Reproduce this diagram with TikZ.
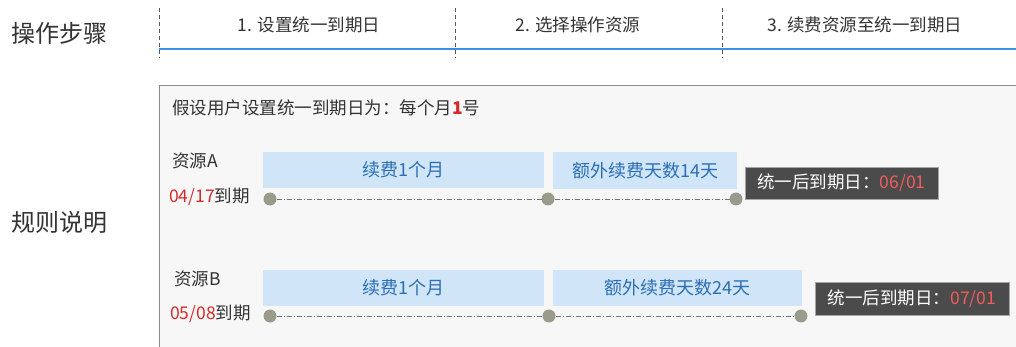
\documentclass[tikz,border=0pt]{standalone}
\usepackage{fontspec}
\setmainfont{Noto Sans CJK SC}
\usetikzlibrary{positioning}

\definecolor{stepblue}{HTML}{3C8FE6}
\definecolor{panelgray}{HTML}{F7F7F7}
\definecolor{phasefill}{HTML}{D0E5F8}
\definecolor{phasetext}{HTML}{2C6FB4}
\definecolor{dotgray}{HTML}{9B9B8B}
\definecolor{resultfill}{HTML}{4B4B4B}
\definecolor{datered}{HTML}{D42A2A}
\definecolor{resultred}{HTML}{F25C5C}
\definecolor{inktext}{HTML}{333333}

\begin{document}
\begin{tikzpicture}[
  x=1pt, y=-1pt,
  every node/.style={inner sep=0pt, outer sep=0pt, text=inktext},
  heading/.style={font=\fontsize{24}{27}\selectfont, anchor=west},
  steplabel/.style={font=\fontsize{17.5}{20}\selectfont},
  plain/.style={font=\fontsize{17.5}{20}\selectfont, anchor=west},
  phase/.style={fill=phasefill, text=phasetext, font=\fontsize{18}{21}\selectfont, anchor=north west},
  dot/.style={circle, fill=dotgray, minimum size=13pt},
  result/.style={fill=resultfill, draw=black!35, text=white, font=\fontsize{17.5}{20}\selectfont, anchor=north west},
  timeline/.style={black!55, dash pattern=on 5pt off 2pt on 1pt off 2pt},
  divider/.style={black!65, dash pattern=on 4pt off 3pt}
]
  \useasboundingbox (0,0) rectangle (1016,347);

  % step bar
  \node (opsteps) [heading] at (11,33) {操作步骤};
  \draw [divider] (159,8) -- (159,58);
  \draw [divider] (455,8) -- (455,58);
  \draw [divider] (722,8) -- (722,58);
  \draw [stepblue, line width=2.2pt] (159,49) -- (1016,49);
  \node (step1) [steplabel] at (309,25) {1. 设置统一到期日};
  \node (step2) [steplabel] at (578,25) {2. 选择操作资源};
  \node (step3) [steplabel] at (865,25) {3. 续费资源至统一到期日};

  % rule panel
  \draw [black!45, fill=panelgray] (159,85) rectangle (1030,360);
  \node (rules) [heading] at (11,222) {规则说明};
  \node (intro) [plain] at (172,108) {假设用户设置统一到期日为：每个月{\bfseries\color{datered}1}号};

  % resource A
  \node (resA) [plain] at (172,161) {资源A};
  \node (dueA) [plain] at (169,197) {{\color{datered}04/17}到期};
  \node (phaseA1) [phase, minimum width=281pt, minimum height=36pt] at (263,152) {续费1个月};
  \node (phaseA2) [phase, minimum width=184pt, minimum height=37pt] at (553,152) {额外续费天数14天};
  \node (dotA0) [dot] at (270,199) {};
  \node (dotA1) [dot] at (548,199) {};
  \node (dotA2) [dot] at (736,199) {};
  \draw [timeline] (dotA0) -- (dotA1);
  \draw [timeline] (dotA1) -- (dotA2);
  \node (resultA) [result, minimum width=193pt, minimum height=32pt] at (745,167) {统一后到期日：{\color{resultred}06/01}};

  % resource B
  \node (resB) [plain] at (174,279) {资源B};
  \node (dueB) [plain] at (170,314) {{\color{datered}05/08}到期};
  \node (phaseB1) [phase, minimum width=281pt, minimum height=36pt] at (263,270) {续费1个月};
  \node (phaseB2) [phase, minimum width=249pt, minimum height=36pt] at (553,270) {额外续费天数24天};
  \node (dotB0) [dot] at (270,316) {};
  \node (dotB1) [dot] at (549,316) {};
  \node (dotB2) [dot] at (801,316) {};
  \draw [timeline] (dotB0) -- (dotB1);
  \draw [timeline] (dotB1) -- (dotB2);
  \node (resultB) [result, minimum width=194pt, minimum height=33pt] at (815,282) {统一后到期日：{\color{resultred}07/01}};
\end{tikzpicture}
\end{document}
